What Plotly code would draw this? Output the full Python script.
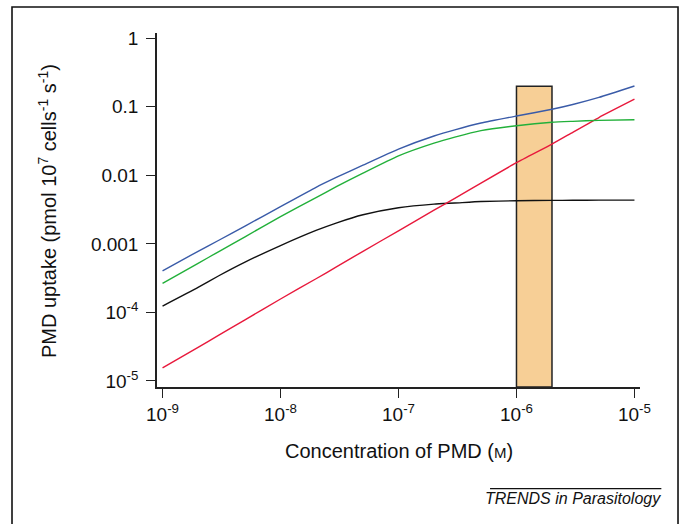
import plotly.graph_objects as go

# Concentration of PMD (M)
conc = [1e-9, 2e-9, 3e-9, 5e-9, 1e-8, 2e-8, 3e-8, 5e-8, 1e-7, 2e-7, 3e-7, 5e-7,
        1e-6, 2e-6, 3e-6, 5e-6, 1e-5]

# PMD uptake (pmol 10^7 cells^-1 s^-1)
total = [4.05e-4, 7.8e-4, 1.13e-3, 1.82e-3, 3.5e-3, 6.7e-3, 9.4e-3, 0.0141, 0.0242, 0.0375, 0.0462, 0.058,
         0.0734, 0.092, 0.108, 0.137, 0.201]
high_affinity = [2.65e-4, 5.2e-4, 7.74e-4, 1.27e-3, 2.5e-3, 4.74e-3, 6.9e-3, 0.0108, 0.0193, 0.0296, 0.0362, 0.045,
                 0.053, 0.0594, 0.0614, 0.0635, 0.0648]
low_km = [1.24e-4, 2.32e-4, 3.43e-4, 5.42e-4, 9.44e-4, 1.57e-3, 2.03e-3, 2.66e-3, 3.37e-3, 3.81e-3, 3.95e-3, 4.15e-3,
          4.26e-3, 4.31e-3, 4.33e-3, 4.35e-3, 4.35e-3]
diffusion = [1.55e-5, 3.1e-5, 4.65e-5, 7.8e-5, 1.57e-4, 3.1e-4, 4.65e-4, 7.8e-4, 1.55e-3, 3.1e-3, 4.6e-3, 7.7e-3,
             0.0153, 0.0286, 0.0425, 0.0698, 0.129]

# Shaded band (therapeutic concentration range)
band_x = [1e-6, 2e-6]
band_top = 0.2

x_tickvals = [1e-9, 1e-8, 1e-7, 1e-6, 1e-5]
x_ticktext = ["10<sup>-9</sup>", "10<sup>-8</sup>", "10<sup>-7</sup>", "10<sup>-6</sup>", "10<sup>-5</sup>"]
y_tickvals = [1, 0.1, 0.01, 0.001, 1e-4, 1e-5]
y_ticktext = ["1", "0.1", "0.01", "0.001", "10<sup>-4</sup>", "10<sup>-5</sup>"]

x_range = [-9.047, -4.953]
y_range = [-5.088, 0.077]
band_bottom = 10 ** y_range[0]

fig = go.Figure()

fig.add_trace(go.Scatter(
    x=[band_x[0], band_x[1], band_x[1], band_x[0], band_x[0]],
    y=[band_bottom, band_bottom, band_top, band_top, band_bottom],
    mode="lines", fill="toself", fillcolor="#F7CF96",
    line=dict(color="#222222", width=1.5), hoverinfo="skip", showlegend=False))

series = [
    (low_km, "#111111"),
    (diffusion, "#E8193C"),
    (high_affinity, "#22B03A"),
    (total, "#3A5BA8"),
]
for vals, col in series:
    fig.add_trace(go.Scatter(x=conc, y=vals, mode="lines",
                             line=dict(color=col, width=1.4, shape="spline", smoothing=0.5),
                             showlegend=False))

font = "Liberation Sans, Arial, Helvetica, sans-serif"

fig.update_xaxes(type="log", range=x_range, tickvals=x_tickvals, ticktext=x_ticktext,
                 showline=True, linecolor="#222222", linewidth=1.5, ticks="outside", ticklen=9,
                 tickwidth=1.3, tickcolor="#222222", showgrid=False, zeroline=False,
                 tickfont=dict(family=font, size=19, color="#111111"))
fig.update_yaxes(type="log", range=y_range, tickvals=y_tickvals, ticktext=y_ticktext,
                 showline=True, linecolor="#222222", linewidth=1.5, ticks="outside", ticklen=9,
                 tickwidth=1.3, tickcolor="#222222", showgrid=False, zeroline=False,
                 ticklabelstandoff=4,
                 tickfont=dict(family=font, size=19, color="#111111"))

fig.update_layout(
    width=683, height=524,
    margin=dict(l=157, r=43, t=33, b=137.3),
    paper_bgcolor="white", plot_bgcolor="white",
    font=dict(family=font, color="#111111"),
    annotations=[
        dict(text="Concentration of PMD (<span style='font-size:15px'>M</span>)", xref="paper", yref="paper",
             x=0.5, y=-0.18, xanchor="center", yanchor="middle", showarrow=False,
             font=dict(family=font, size=20, color="#111111")),
        dict(text="PMD uptake (pmol 10<sup>7</sup> cells<sup>-1</sup> s<sup>-1</sup>)", xref="paper", yref="paper",
             x=-0.228, y=0.4967, xanchor="center", yanchor="middle", textangle=-90, showarrow=False,
             font=dict(family=font, size=20, color="#111111")),
        dict(text="<i>TRENDS in Parasitology</i>", xref="paper", yref="paper",
             x=1.0476, y=-0.3155, xanchor="right", yanchor="middle", showarrow=False,
             font=dict(family=font, size=16, color="#111111")),
    ],
    shapes=[
        dict(type="line", xref="paper", yref="paper", x0=0.6895, x1=1.0442, y0=-0.2872, y1=-0.2872,
             line=dict(color="#111111", width=1.2)),
        dict(type="rect", xref="paper", yref="paper", x0=-0.3002, x1=1.0787, y0=-0.46, y1=1.0735,
             line=dict(color="#111111", width=1.6), fillcolor="rgba(0,0,0,0)", layer="below"),
    ],
)

fig.write_html("out.html", config={"displayModeBar": False},
               post_script="document.body.style.margin='0';")
